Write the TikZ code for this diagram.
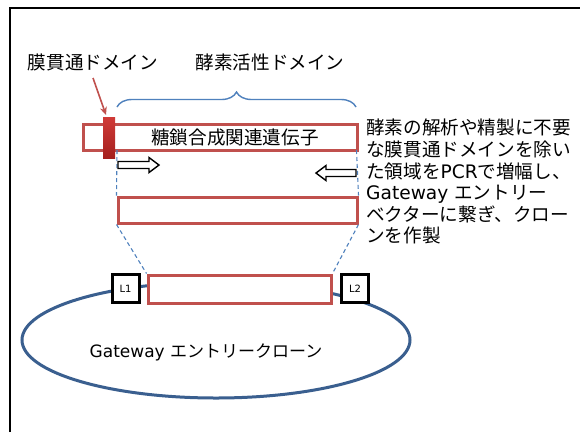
\documentclass[tikz,border=0pt]{standalone}
\usepackage{fontspec}
\setmainfont{Noto Sans CJK JP}
\newfontfamily\latinf{DejaVu Sans}
\usetikzlibrary{arrows.meta,decorations.pathreplacing}
\definecolor{redb}{HTML}{C0504D}
\definecolor{blueb}{HTML}{4F81BD}
\definecolor{ellb}{HTML}{3A5F8F}
\tikzset{
  lbl/.style={inner sep=0pt,font=\fontsize{18.6}{21.6}\selectfont},
  genebox/.style={draw=redb,line width=3pt,fill=white,inner sep=0pt},
  lbox/.style={draw=black,line width=3pt,fill=white,inner sep=0pt,minimum width=27pt,minimum height=28pt,font=\latinf\fontsize{10}{12}\selectfont},
  guide/.style={draw=blueb,line width=1.1pt,dash pattern=on 4pt off 3pt},
  hollow/.style={draw=black,line width=1.4pt,fill=white,line join=miter}
}
\begin{document}
\begin{tikzpicture}[x=1pt,y=-1pt]
\useasboundingbox (0,0) rectangle (580,432);
\fill[white] (0,0) rectangle (580,432);
% frame
\draw[line width=1.6pt] (10,432) -- (10,8) -- (580,8);
% labels
\node[lbl] (tm) at (93,62) {膜貫通ドメイン};
\node[lbl] (ea) at (270,62) {酵素活性ドメイン};
% brace
\draw[blueb,line width=1.4pt,decorate,decoration={brace,amplitude=15pt}] (117,107) -- (356,107);
% top gene box
\node[genebox,minimum width=274pt,minimum height=26pt] (gene) at (220,137) {};
\node[lbl] (genet) at (235,137) {糖鎖合成関連遺伝子};
% membrane block
\node[inner sep=0pt,minimum width=12pt,minimum height=41pt,top color={rgb,255:red,208;green,58;blue,55},bottom color={rgb,255:red,165;green,32;blue,30}] (mem) at (109,137.5) {};
% red arrow
\coordinate (as) at (93,78);
\draw[redb,line width=1.6pt,-{Stealth[length=8pt,width=7pt]}] (as) -- (106,115);
% guides
\coordinate (g1) at (117,150);
\coordinate (g2) at (356.5,150);
\node[genebox,minimum width=239pt,minimum height=26pt] (pcr) at (237.5,210) {};
\draw[guide] (g1) -- (pcr.north west);
\draw[guide] (g2) -- (pcr.north east);
% entry clone
\draw[ellb,line width=3pt] (216,340) ellipse[x radius=194,y radius=58];
\node[genebox,minimum width=183pt,minimum height=28pt] (ins) at (239.5,289) {};
\draw[guide] (pcr.south west) -- (ins.north west);
\draw[guide] (pcr.south east) -- (ins.north east);
\node[lbox] (l1) at (125.5,288.5) {L1};
\node[lbox] (l2) at (355,288.5) {L2};
\node[inner sep=0pt,font=\fontsize{17}{20}\selectfont] (gw) at (206,352) {{\latinf Gateway }エントリークローン};
% hollow arrows
\draw[hollow] (118,161.5) -- (149,161.5) -- (149,157.5) -- (159,165) -- (149,172.5) -- (149,168.5) -- (118,168.5) -- cycle;
\draw[hollow] (356,169.5) -- (326,169.5) -- (326,165.5) -- (316,173) -- (326,180.5) -- (326,176.5) -- (356,176.5) -- cycle;
% right description
\node[lbl,anchor=north west,align=left] (desc) at (366,119) {酵素の解析や精製に不要\\な膜貫通ドメインを除い\\た領域を{\latinf PCR}で増幅し、\\{\latinf Gateway }エントリー\\ベクターに繋ぎ、クロー\\ンを作製};
\end{tikzpicture}
\end{document}
